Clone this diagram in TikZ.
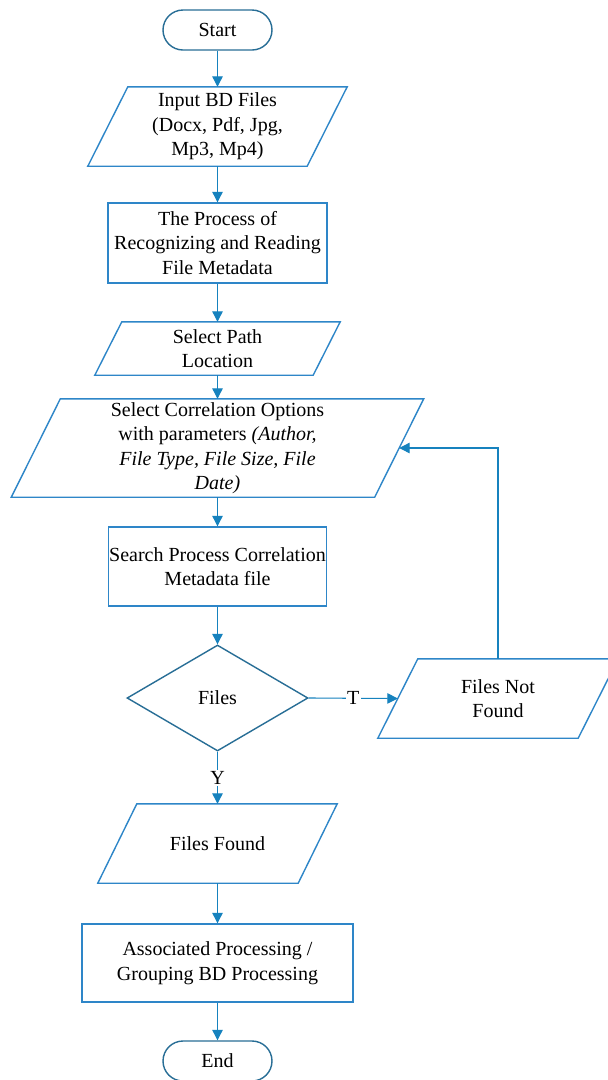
\documentclass[tikz,border=0pt]{standalone}
\usepackage{fontspec}
\setmainfont{Liberation Serif}
\usetikzlibrary{shapes.geometric,arrows.meta}
\definecolor{boxc}{RGB}{46,134,200}
\definecolor{termc}{RGB}{40,110,150}
\definecolor{arrc}{RGB}{22,130,190}
\newcommand{\paragram}[2]{\draw[ioline] ([xshift=#2]#1.north west) -- ([xshift=#2]#1.north east) -- ([xshift=-#2]#1.south east) -- ([xshift=-#2]#1.south west) -- cycle;}
\begin{document}
\begin{tikzpicture}[x=1pt,y=-1pt,
  every node/.style={font=\fontsize{20}{24.5}\selectfont, align=center, inner sep=0pt},
  term/.style={draw=termc, line width=1.4pt, rounded corners=20pt, minimum width=109pt, minimum height=40pt},
  proc/.style={draw=boxc, line width=1.4pt},
  iobox/.style={},
  ioline/.style={draw=boxc, line width=1.4pt},
  dec/.style={draw=termc, line width=1.4pt, diamond, aspect=1.7, minimum width=181pt, minimum height=106pt},
  arr/.style={draw=arrc, line width=1.1pt, -{Triangle[length=10.5pt,width=10.5pt]}},
  lbl/.style={fill=white, inner sep=1.5pt}]
\clip (0,0) rectangle (608,1080);
\fill[white] (0,0) rectangle (608,1080);

\node[term] (start) at (217.5,30) {Start};

\node[iobox, minimum width=219pt, minimum height=79pt] (in1) at (217.5,126.5) {Input BD Files\\(Docx, Pdf, Jpg,\\Mp3, Mp4)};
\paragram{in1}{20pt}

\node[proc, minimum width=219pt, minimum height=80pt] (proc1) at (217.5,243) {The Process of\\Recognizing and Reading\\File Metadata};

\node[iobox, minimum width=218pt, minimum height=53pt] (path) at (217.5,348.5) {Select Path\\Location};
\paragram{path}{13.5pt}

\node[iobox, minimum width=363pt, minimum height=98pt] (corr) at (217.5,448) {Select Correlation Options\\with parameters \textit{(Author,}\\\textit{File Type, File Size, File}\\\textit{Date)}};
\paragram{corr}{24.5pt}

\node[proc, minimum width=218pt, minimum height=79pt] (search) at (217.5,566.5) {Search Process Correlation\\Metadata file};

\node[dec] (dec) at (217.5,698) {Files};

\node[iobox, minimum width=200pt, minimum height=79pt] (nf) at (498,698.5) {Files Not\\Found};
\paragram{nf}{20pt}

\node[iobox, minimum width=200pt, minimum height=79pt] (found) at (217.5,843.5) {Files Found};
\paragram{found}{19.5pt}

\node[proc, minimum width=271pt, minimum height=78pt] (assoc) at (217.5,963) {Associated Processing /\\Grouping BD Processing};

\node[term] (end) at (217.5,1061) {End};

\draw[arr] (start.south) -- (in1.north);
\draw[arr] (in1.south) -- (proc1.north);
\draw[arr] (proc1.south) -- (path.north);
\draw[arr] (path.south) -- (corr.north);
\draw[arr] (corr.south) -- (search.north);
\draw[arr] (search.south) -- (dec.north);
\draw[arr] (dec.east) -- node[lbl] {T} (nf.west);
\draw[arr] (nf.north) |- (corr.east);
\draw[arr] (dec.south) -- node[lbl] {Y} (found.north);
\draw[arr] (found.south) -- (assoc.north);
\draw[arr] (assoc.south) -- (end.north);
\end{tikzpicture}
\end{document}
